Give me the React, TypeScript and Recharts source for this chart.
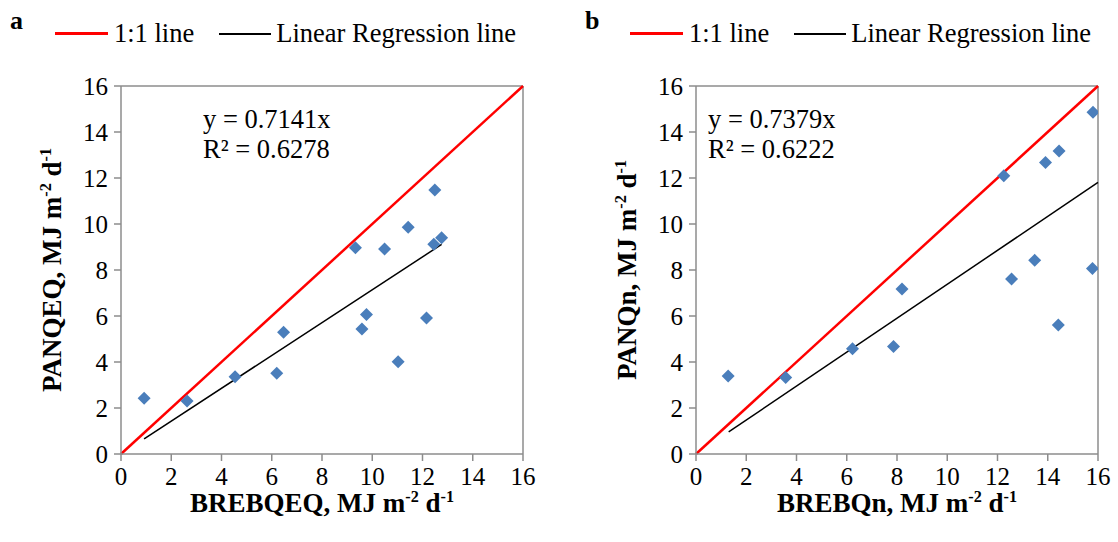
import React from 'react';
import { ScatterChart, Scatter, XAxis, YAxis, ReferenceLine } from 'recharts';

const ticks = [0, 2, 4, 6, 8, 10, 12, 14, 16];

const xA = [0.92, 2.63, 4.54, 6.2, 6.47, 9.33, 9.59, 9.77, 10.49, 11.03, 11.43, 12.16, 12.45, 12.49, 12.76];
const yA = [2.42, 2.3, 3.36, 3.51, 5.29, 8.97, 5.43, 6.06, 8.91, 4.01, 9.86, 5.91, 9.12, 11.48, 9.4];
const slopeA = 0.7141;
const r2A = 0.6278;
const regRangeA = [0.92, 12.76];

const xB = [1.28, 3.57, 6.23, 7.86, 8.2, 12.25, 12.56, 13.48, 13.91, 14.45, 14.42, 15.8, 15.78];
const yB = [3.39, 3.33, 4.58, 4.67, 7.17, 12.1, 7.61, 8.42, 12.67, 13.17, 5.61, 14.86, 8.07];
const slopeB = 0.7379;
const r2B = 0.6222;
const regRangeB = [1.3, 16];

const FONT = '"Liberation Serif", "Times New Roman", serif';
const AXIS_COLOR = '#8c8c8c';
const POINT_COLOR = '#4a7ebb';

const Diamond = (props: any) => {
  const { cx, cy } = props;
  if (cx == null || cy == null) return null;
  const r = 6.5;
  return (
    <polygon
      points={`${cx},${cy - r} ${cx + r},${cy} ${cx},${cy + r} ${cx - r},${cy}`}
      fill={POINT_COLOR}
    />
  );
};

type PanelProps = {
  left: number;
  letter: string;
  xs: number[];
  ys: number[];
  slope: number;
  r2: number;
  regRange: number[];
  xTitle: string;
  yTitle: string;
  eqLeft: number;
};

const Panel = ({ left, letter, xs, ys, slope, r2, regRange, xTitle, yTitle, eqLeft }: PanelProps) => {
  const data = xs.map((x, i) => ({ x, y: ys[i] }));
  const tickStyle = { fontFamily: FONT, fontSize: 25, fill: '#000' };
  const sup = { fontSize: '0.6em', lineHeight: 0 };
  return (
    <div style={{ position: 'absolute', left, top: 0, width: 543, height: 542, fontFamily: FONT }}>
      <ScatterChart width={543} height={542} margin={{ top: 86, right: 20, bottom: 38, left: 61 }}>
        <XAxis
          type="number"
          dataKey="x"
          domain={[0, 16]}
          ticks={ticks}
          height={50}
          tickSize={7}
          tickMargin={6}
          stroke={AXIS_COLOR}
          strokeWidth={1.5}
          tick={tickStyle}
          allowDataOverflow
        />
        <YAxis
          type="number"
          dataKey="y"
          domain={[0, 16]}
          ticks={ticks}
          width={60}
          tickSize={7}
          tickMargin={6}
          stroke={AXIS_COLOR}
          strokeWidth={1.5}
          tick={tickStyle}
          allowDataOverflow
        />
        <ReferenceLine y={16} stroke={AXIS_COLOR} strokeWidth={1.5} />
        <ReferenceLine x={16} stroke={AXIS_COLOR} strokeWidth={1.5} />
        <ReferenceLine
          segment={[{ x: 0, y: 0 }, { x: 16, y: 16 }]}
          stroke="#ff0000"
          strokeWidth={2.5}
        />
        <ReferenceLine
          segment={[
            { x: regRange[0], y: slope * regRange[0] },
            { x: regRange[1], y: slope * regRange[1] },
          ]}
          stroke="#000"
          strokeWidth={1.5}
        />
        <Scatter data={data} shape={<Diamond />} isAnimationActive={false} />
      </ScatterChart>

      <div style={{ position: 'absolute', left: 10, top: 6, fontSize: 26, fontWeight: 'bold' }}>{letter}</div>

      <div style={{ position: 'absolute', left: 55, top: 18, display: 'flex', alignItems: 'center', fontSize: 26.5, whiteSpace: 'nowrap' }}>
        <div style={{ width: 53, height: 2.5, background: '#ff0000', marginRight: 6 }} />
        <span>1:1 line</span>
        <div style={{ width: 52, height: 2, background: '#000', marginLeft: 25, marginRight: 5 }} />
        <span>Linear Regression line</span>
      </div>

      <div style={{ position: 'absolute', left: eqLeft, top: 104, fontSize: 26.5, lineHeight: '30px', whiteSpace: 'nowrap' }}>
        <div>y = {slope.toFixed(4)}x</div>
        <div>R² = {r2.toFixed(4)}</div>
      </div>

      <div
        style={{
          position: 'absolute',
          left: 322,
          top: 503,
          transform: 'translate(-50%, -50%)',
          fontSize: 27,
          lineHeight: 1,
          fontWeight: 'bold',
          whiteSpace: 'nowrap',
        }}
      >
        {xTitle}, MJ m<sup style={sup}>-2</sup> d<sup style={sup}>-1</sup>
      </div>

      <div
        style={{
          position: 'absolute',
          left: 52,
          top: 270,
          transform: 'translate(-50%, -50%) rotate(-90deg)',
          fontSize: 27,
          lineHeight: 1,
          fontWeight: 'bold',
          whiteSpace: 'nowrap',
        }}
      >
        {yTitle}, MJ m<sup style={sup}>-2</sup> d<sup style={sup}>-1</sup>
      </div>
    </div>
  );
};

export default function App() {
  return (
    <div style={{ position: 'absolute', left: 0, top: 0, width: 1118, height: 542, background: '#fff' }}>
      <Panel
        left={0}
        letter="a"
        xs={xA}
        ys={yA}
        slope={slopeA}
        r2={r2A}
        regRange={regRangeA}
        xTitle="BREBQEQ"
        yTitle="PANQEQ"
        eqLeft={203}
      />
      <Panel
        left={575}
        letter="b"
        xs={xB}
        ys={yB}
        slope={slopeB}
        r2={r2B}
        regRange={regRangeB}
        xTitle="BREBQn"
        yTitle="PANQn"
        eqLeft={133}
      />
    </div>
  );
}
